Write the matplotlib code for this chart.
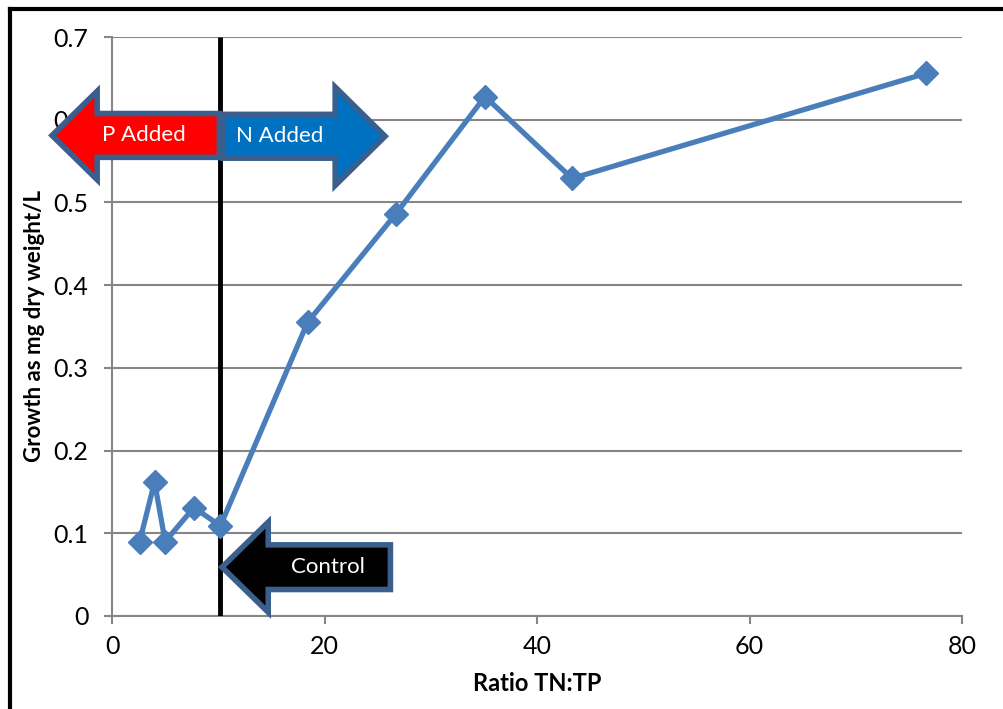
import numpy as np
import matplotlib
matplotlib.use("Agg")
import matplotlib.pyplot as plt
from matplotlib.patches import Polygon
from matplotlib.lines import Line2D

plt.rcParams['font.family'] = ['Lato', 'DejaVu Sans']

# TN:TP ratio vs growth
ratio_tn_tp = [2.6, 4.0, 5.0, 7.7, 10.2, 18.4, 26.7, 35.1, 43.3, 76.6]
growth_mg_l = [0.090, 0.162, 0.090, 0.131, 0.109, 0.355, 0.486, 0.628, 0.529, 0.656]
control_ratio = 10.2

x_ticks = [0, 20, 40, 60, 80]
y_ticks = [0, 0.1, 0.2, 0.3, 0.4, 0.5, 0.6, 0.7]
y_tick_labels = ['0', '0.1', '0.2', '0.3', '0.4', '0.5', '0.6', '0.7']

line_blue = '#4A7EBB'
grid_gray = '#868686'
outline = '#3A5F8C'

fig = plt.figure(figsize=(10.04, 7.09), dpi=100)
ax = fig.add_axes([0.1116, 0.1312, 0.8466, 0.8166])

ax.set_xlim(0, 80)
ax.set_ylim(0, 0.7)
ax.set_xticks(x_ticks)
ax.set_yticks(y_ticks)
ax.set_yticklabels(y_tick_labels)
ax.yaxis.grid(True, color=grid_gray, lw=1.5)
ax.set_axisbelow(True)
for s in ['top', 'right']:
    ax.spines[s].set_visible(False)
for s in ['left', 'bottom']:
    ax.spines[s].set_color(grid_gray)
    ax.spines[s].set_linewidth(1.5)
ax.tick_params(axis='both', colors=grid_gray, length=6, width=1.5,
               labelcolor='black', labelsize=18)
ax.tick_params(axis='y', pad=11)
ax.tick_params(axis='x', pad=8)

ax.set_xlabel('Ratio TN:TP', fontsize=17, fontweight='bold', labelpad=10)
ax.set_ylabel('Growth as mg dry weight/L', fontsize=16, fontweight='bold', labelpad=6)

# control divider
ax.plot([control_ratio, control_ratio], [0, 0.7], color='black', lw=3.5, zorder=3,
        solid_capstyle='butt')

ax.plot(ratio_tn_tp, growth_mg_l, color=line_blue, lw=3.8, marker='D',
        markersize=12.5, markeredgecolor=line_blue, zorder=4)


def block_arrow(x_tail, x_neck, x_tip, y_mid, body_h, head_h, face):
    pts = [
        (x_tail, y_mid - body_h / 2), (x_neck, y_mid - body_h / 2),
        (x_neck, y_mid - head_h / 2), (x_tip, y_mid),
        (x_neck, y_mid + head_h / 2), (x_neck, y_mid + body_h / 2),
        (x_tail, y_mid + body_h / 2),
    ]
    p = Polygon(pts, closed=True, facecolor=face, edgecolor=outline, lw=4,
                joinstyle='miter', clip_on=False, zorder=5)
    ax.add_patch(p)


block_arrow(10.1, -1.4, -5.65, 0.581, 0.053, 0.107, '#FF0000')
block_arrow(10.4, 21.0, 25.7, 0.580, 0.053, 0.119, '#0070C0')
block_arrow(26.2, 14.7, 10.35, 0.059, 0.054, 0.109, '#000000')

ax.text(3.0, 0.581, 'P Added', color='white', fontsize=16, ha='center', va='center', zorder=6)
ax.text(15.8, 0.580, 'N Added', color='white', fontsize=16, ha='center', va='center', zorder=6)
ax.text(20.3, 0.059, 'Control', color='white', fontsize=16, ha='center', va='center', zorder=6)

# outer chart frame
fig.add_artist(Line2D([0.0095, 0.0095], [0, 0.988], transform=fig.transFigure,
                      color='black', lw=3))
fig.add_artist(Line2D([0.0095, 1.0], [0.9875, 0.9875], transform=fig.transFigure,
                      color='black', lw=3, solid_capstyle='projecting'))

fig.savefig('out.png', dpi=100)
